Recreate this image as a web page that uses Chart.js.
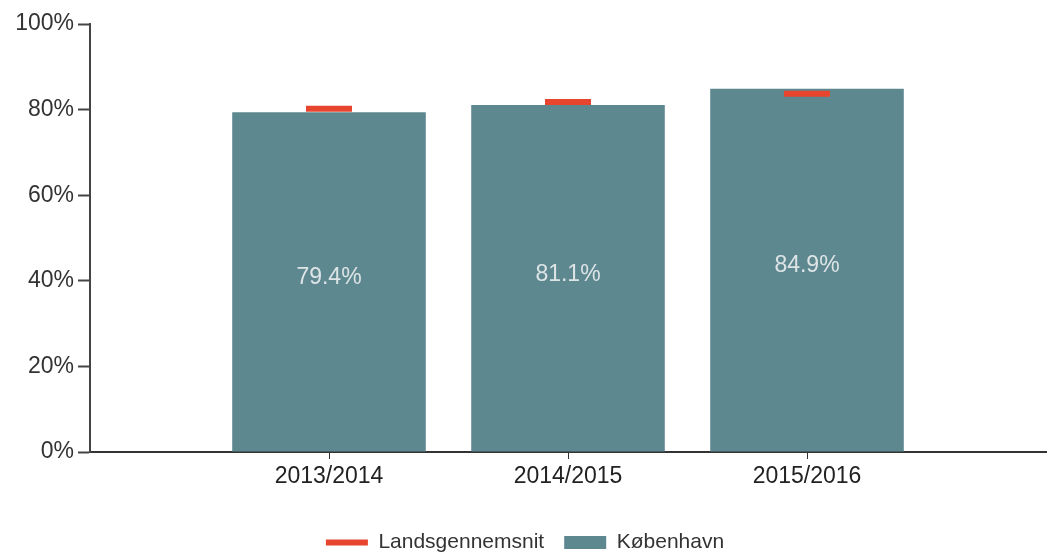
<!DOCTYPE html>
<html>
<head>
<meta charset="utf-8">
<script src="https://cdn.jsdelivr.net/npm/chart.js@4/dist/chart.umd.min.js"></script>
<style>
    html, body { margin: 0; padding: 0; background: #fff; }
    #wrap { width: 1050px; height: 555px; }
</style>
</head>
<body>
<div id="wrap"><canvas id="grafico"></canvas></div>
<script>
// tomme kategorier i kanterne giver samme luft som originalen
var kategorier = ['', '2013/2014', '2014/2015', '2015/2016', ''];
var kobenhavn = [null, 79.4, 81.1, 84.9, null];
var landsgennemsnit = [null, 80.2, 81.8, 83.7, null];
var yTicks = [0, 20, 40, 60, 80, 100];

var fontNavn = "'Liberation Sans', Arial, sans-serif";

var etiketPlugin = {
    id: 'etiketter',
    afterDatasetsDraw: function (chart) {
        var ctx = chart.ctx;
        var meta = chart.getDatasetMeta(1);
        ctx.save();
        ctx.fillStyle = '#dde4e6';
        ctx.font = '23px ' + fontNavn;
        ctx.textAlign = 'center';
        ctx.textBaseline = 'middle';
        meta.data.forEach(function (bar, i) {
            var v = kobenhavn[i];
            if (v === null)
                return;
            var midt = (bar.y + bar.base) / 2;
            ctx.fillText(v.toFixed(1) + '%', bar.x, midt - 4);
        });
        ctx.restore();
    }
};

new Chart(document.getElementById('grafico').getContext('2d'), {
    type: 'bar',
    data: {
        labels: kategorier,
        datasets: [{
            type: 'line',
            label: 'Landsgennemsnit',
            data: landsgennemsnit,
            showLine: false,
            pointStyle: 'line',
            pointRadius: 23,
            pointHoverRadius: 23,
            borderColor: '#e8452e',
            backgroundColor: '#e8452e',
            borderWidth: 5,
            pointBorderWidth: 6
        }, {
            label: 'København',
            data: kobenhavn,
            backgroundColor: '#5e8890',
            borderWidth: 0,
            pointStyle: 'rect',
            barPercentage: 0.81,
            categoryPercentage: 1.0
        }]
    },
    options: {
        responsive: true,
        maintainAspectRatio: false,
        animation: false,
        layout: { autoPadding: false, padding: { top: 24, right: 0, left: 0, bottom: -8 } },
        scales: {
            x: {
                offset: false,
                grid: {
                    offset: false,
                    drawOnChartArea: false,
                    tickLength: 7,
                    tickColor: function (c) {
                        return kategorier[c.index] ? '#333' : 'rgba(0,0,0,0)';
                    }
                },
                border: { color: '#333', width: 2 },
                ticks: {
                    color: '#222',
                    font: { size: 23, family: fontNavn },
                    padding: 4,
                    maxRotation: 0,
                    autoSkip: false
                },
                afterFit: function (scale) {
                    scale.height = 60;
                }
            },
            y: {
                min: 0,
                max: 100,
                afterBuildTicks: function (scale) {
                    scale.ticks = yTicks.map(function (v) { return { value: v }; });
                },
                grid: { drawOnChartArea: false, tickLength: 12, tickColor: '#444', tickWidth: 2 },
                border: { color: '#444', width: 2 },
                ticks: {
                    color: '#333',
                    font: { size: 23, family: fontNavn },
                    padding: 4,
                    callback: function (v) { return v + '%'; }
                },
                afterFit: function (scale) { scale.width = 90; }
            }
        },
        plugins: {
            legend: {
                position: 'bottom',
                labels: {
                    color: '#333',
                    font: { size: 21, family: fontNavn },
                    usePointStyle: true,
                    pointStyleWidth: 42,
                    boxHeight: 13,
                    padding: 20
                }
            },
            tooltip: { enabled: false }
        }
    },
    plugins: [etiketPlugin]
});
</script>
</body>
</html>
